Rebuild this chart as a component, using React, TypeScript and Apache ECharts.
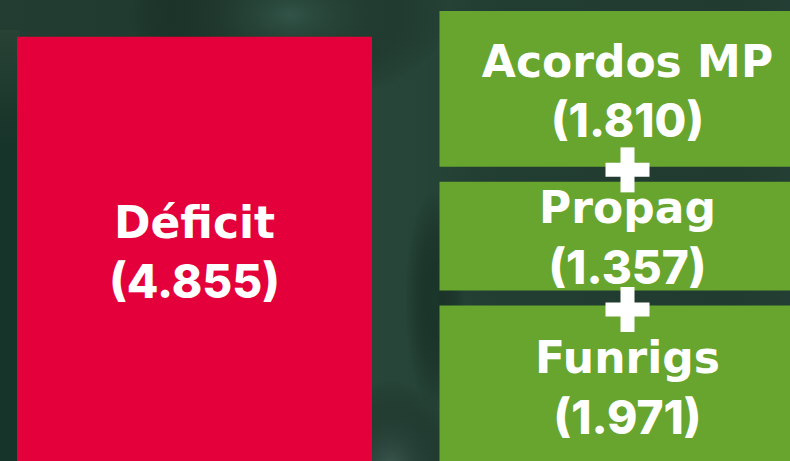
import React, { useEffect, useRef } from "react";
import * as echarts from "echarts";

const categories = ["Déficit", "Cobertura"];
const deficitName = "Déficit";
const deficitValue = 4855;
// stacked from the bottom up
const coverNames = ["Funrigs", "Propag", "Acordos MP"];
const coverValues = [1971, 1357, 1810];

const RED = "#E4003A";
const GREEN = "#67A52F";
const FONT_NAME = "'DejaVu Sans', sans-serif";
const FONT_NUM = "Inter, 'DejaVu Sans', sans-serif";
const OX = 22; // chart div is shifted left by this much

function fmt(v: number): string {
  return String(v).replace(/\B(?=(\d{3})+(?!\d))/g, ".");
}

const rich = (lh: number) => ({
  n: {
    fontFamily: FONT_NAME,
    fontWeight: "bold",
    fontSize: 44,
    lineHeight: lh,
    color: "#ffffff",
    fill: "#ffffff",
  },
  v: {
    fontFamily: FONT_NUM,
    fontWeight: 800,
    fontSize: 46,
    lineHeight: lh,
    color: "#ffffff",
    fill: "#ffffff",
  },
});

export default function App() {
  const ref = useRef<HTMLDivElement>(null);

  useEffect(() => {
    if (!ref.current) return;
    document.body.style.margin = "0";
    document.body.style.overflow = "hidden";
    const chart = echarts.init(ref.current, undefined, { renderer: "svg" });

    const total = coverValues.reduce((a, b) => a + b, 0);
    const stackData: any[] = [];
    let acc = 0;
    coverValues.forEach((v, i) => {
      stackData.push([1, acc, acc + v, coverNames[i], v, i]);
      acc += v;
    });

    const gapBelow = 6;
    const gapAbove = 9;
    const plusShift = [10, -6];
    const labelShift = [-5, 1, 2];
    const boxWidth = 376;

    const renderItem = (params: any, api: any) => {
      const idx = api.value(5);
      const start = api.coord([api.value(0), api.value(1)]);
      const end = api.coord([api.value(0), api.value(2)]);
      const cx = start[0];
      let top = end[1];
      let bottom = start[1];
      if (idx < coverValues.length - 1) top += gapBelow;
      if (idx > 0) bottom -= gapAbove;
      const children: any[] = [
        {
          type: "rect",
          shape: { x: cx - boxWidth / 2, y: top, width: boxWidth, height: bottom - top },
          style: { fill: GREEN },
        },
        {
          type: "text",
          z2: 10,
          style: {
            text: "{n|" + api.value(3) + "}\n{v|(" + fmt(api.value(4)) + ")}",
            rich: rich(59),
            x: cx,
            y: (top + bottom) / 2 + labelShift[idx],
            align: "center",
            verticalAlign: "middle",
            fill: "#ffffff",
          },
        },
      ];
      if (idx < coverValues.length - 1) {
        const py = end[1] + plusShift[idx];
        children.push(
          {
            type: "rect",
            z2: 20,
            shape: { x: cx - 22, y: py - 7, width: 44, height: 14 },
            style: { fill: "#ffffff" },
          },
          {
            type: "rect",
            z2: 20,
            shape: { x: cx - 7, y: py - 22.5, width: 14, height: 45 },
            style: { fill: "#ffffff" },
          }
        );
      }
      return { type: "group", children };
    };

    const radial = (c: string) =>
      new echarts.graphic.RadialGradient(0.5, 0.5, 0.5, [
        { offset: 0, color: c },
        { offset: 1, color: "rgba(0,0,0,0)" },
      ]);

    chart.setOption({
      animation: false,
      backgroundColor: "#243f35",
      graphic: [
        {
          type: "group",
          x: OX,
          children: [
            {
              type: "rect",
              z: -10,
              shape: { x: -OX, y: 0, width: 790 + 2 * OX + 60, height: 490 },
              style: {
                fill: new echarts.graphic.LinearGradient(0, 0, 1, 0, [
                  { offset: 0, color: "#233d32" },
                  { offset: 0.22, color: "#1f3a2e" },
                  { offset: 0.35, color: "#294839" },
                  { offset: 0.5, color: "#264438" },
                  { offset: 0.58, color: "#223d32" },
                  { offset: 0.85, color: "#213b30" },
                  { offset: 1, color: "#27433a" },
                ]),
              },
            },
            {
              type: "ellipse",
              z: -9,
              shape: { cx: 290, cy: 15, rx: 160, ry: 90 },
              style: { fill: radial("rgba(52,88,76,0.75)") },
            },
            {
              type: "ellipse",
              z: -9,
              shape: { cx: 390, cy: 470, rx: 70, ry: 90 },
              style: { fill: radial("rgba(70,100,92,0.7)") },
            },
            {
              type: "ellipse",
              z: -9,
              shape: { cx: 435, cy: 300, rx: 30, ry: 110 },
              style: { fill: radial("rgba(20,46,36,0.6)") },
            },
            {
              type: "rect",
              z: -8,
              shape: { x: -OX, y: 30, width: 20 + OX, height: 460 },
              style: {
                fill: new echarts.graphic.LinearGradient(0, 0, 0, 1, [
                  { offset: 0, color: "#284235" },
                  { offset: 0.18, color: "#1b372c" },
                  { offset: 0.26, color: "#17342a" },
                  { offset: 1, color: "#17342a" },
                ]),
              },
            },
          ],
        },
      ],
      grid: { left: 0, right: 0, top: 11, bottom: 0, containLabel: false },
      xAxis: {
        type: "category",
        data: categories,
        show: false,
      },
      yAxis: {
        type: "value",
        min: 0,
        max: total,
        show: false,
        splitLine: { show: false },
      },
      series: [
        {
          type: "bar",
          barWidth: 355,
          data: [{ value: deficitValue, name: deficitName }, "-"],
          itemStyle: { color: RED },
          label: {
            show: true,
            position: "inside",
            offset: [0, -6],
            formatter: (p: any) => "{n|" + p.name + "}\n{v|(" + fmt(p.value) + ")}",
            rich: rich(58),
            color: "#ffffff",
          },
        },
        {
          type: "custom",
          renderItem,
          data: stackData,
          encode: { x: 0, y: [1, 2] },
          clip: false,
        },
      ],
    });

    return () => chart.dispose();
  }, []);

  return (
    <div
      ref={ref}
      style={{ position: "fixed", left: -OX, top: 0, width: 866, height: 479 }}
    />
  );
}
